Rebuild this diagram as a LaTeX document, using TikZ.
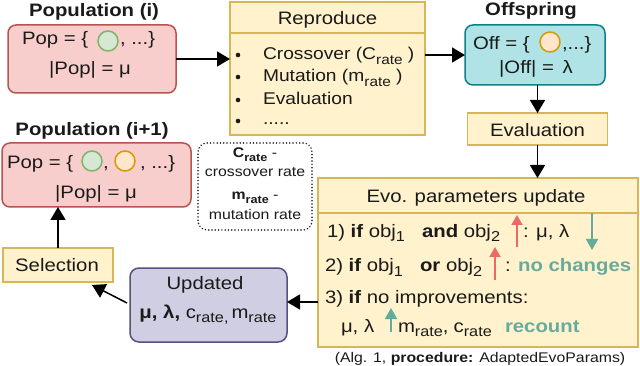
\documentclass[tikz,border=0pt]{standalone}
\usepackage{fontspec}
\usepackage{graphicx}
\setmainfont{Liberation Sans}[FakeStretch=1.13]
\usetikzlibrary{arrows.meta,calc}
\newcommand{\sbx}[1]{\raisebox{-0.45ex}{\scalebox{0.8}{#1}}}
\definecolor{popfill}{HTML}{F8CECC}
\definecolor{popdraw}{HTML}{B85450}
\definecolor{yelfill}{HTML}{FFF2CC}
\definecolor{yeldraw}{HTML}{D6B656}
\definecolor{offfill}{HTML}{B0E3E6}
\definecolor{offdraw}{HTML}{0E8088}
\definecolor{purfill}{HTML}{D0CEE2}
\definecolor{purdraw}{HTML}{56517E}
\definecolor{grnfill}{HTML}{D5E8D4}
\definecolor{grndraw}{HTML}{82B366}
\definecolor{orfill}{HTML}{FFE6CC}
\definecolor{ordraw}{HTML}{D79B00}
\definecolor{redarr}{HTML}{EA6B66}
\definecolor{tealc}{HTML}{67AB9F}
\definecolor{txt}{HTML}{1A1A1A}
\begin{document}
\begin{tikzpicture}[x=1pt,y=-1pt,
  every node/.style={inner sep=0pt,outer sep=0pt,text=txt},
  big/.style={font=\fontsize{18}{21}\selectfont},
  bigb/.style={font=\fontsize{18}{21}\selectfont\bfseries},
  mid/.style={font=\fontsize{17}{20}\selectfont},
  small/.style={font=\fontsize{14}{17}\selectfont},
  box/.style={draw,line width=1.5pt,rectangle},
  popbox/.style={box,fill=popfill,draw=popdraw,rounded corners=8pt},
  yelbox/.style={box,fill=yelfill,draw=yeldraw},
  offbox/.style={box,fill=offfill,draw=offdraw,rounded corners=8pt},
  purbox/.style={box,fill=purfill,draw=purdraw,rounded corners=9pt},
  notebox/.style={draw=txt,line width=1.6pt,dash pattern=on 0.1pt off 3.2pt,line cap=round,rounded corners=9pt,rectangle},
  grncirc/.style={circle,draw=grndraw,fill=grnfill,line width=1.5pt,minimum size=20pt},
  orcirc/.style={circle,draw=ordraw,fill=orfill,line width=1.5pt,minimum size=20pt},
  arr/.style={line width=1.5pt,draw=black,-{Triangle[length=13pt,width=15pt]}},
  redup/.style={line width=1.8pt,draw=redarr,-{Triangle[length=10pt,width=11pt]}},
  tealar/.style={line width=1.8pt,draw=tealc,-{Triangle[length=11pt,width=12pt]}},
  bul/.style={circle,fill=txt,minimum size=4.6pt}
]
\useasboundingbox[fill=white] (0,0) rectangle (640,366);

% ---- Population (i)
\node[bigb,anchor=base] (t1) at (94,16.5) {Population (i)};
\node[popbox,minimum width=168pt,minimum height=68pt] (pop1) at (92,59) {};
\node[big,anchor=base west] (p1a) at (22,45) {Pop = \{};
\node[grncirc] (p1c) at (108,41) {};
\node[big,anchor=base west] (p1b) at (120,45) {, ...\}};
\node[big,anchor=base] (p1d) at (90,75) {|Pop| = μ};

% ---- Reproduce
\node[yelbox,minimum width=195pt,minimum height=31pt] (rhead) at (327.5,17.5) {};
\node[yelbox,minimum width=195pt,minimum height=102pt] (rbody) at (327.5,84) {};
\node[big,anchor=base] (rt) at (327.5,25) {Reproduce};
\node[bul] (b1) at (238,55) {};
\node[bul] (b2) at (238,77) {};
\node[bul] (b3) at (238,100) {};
\node[bul] (b4) at (238,121) {};
\node[mid,anchor=base west] (r1) at (263,60) {Crossover (C\sbx{rate} )};
\node[mid,anchor=base west] (r2) at (263,82) {Mutation (m\sbx{rate} )};
\node[mid,anchor=base west] (r3) at (263,105) {Evaluation};
\node[mid,anchor=base west] (r4) at (263,125) {.....};

% ---- Offspring
\node[bigb,anchor=base] (t2) at (531,15.5) {Offspring};
\node[offbox,minimum width=140pt,minimum height=60pt] (off) at (535,55) {};
\node[big,anchor=base west] (o1a) at (473,50) {Off = \{};
\node[orcirc] (o1c) at (550,42) {};
\node[big,anchor=base west] (o1b) at (562,50) {,...\}};
\node[big,anchor=base] (o1d) at (536,74) {|Off| =\, λ};

% ---- Evaluation
\node[yelbox,minimum width=140pt,minimum height=32pt] (eval) at (537.5,129) {};
\node[big,anchor=base] (et) at (537.5,137) {Evaluation};

% ---- Evo parameters update
\node[yelbox,minimum width=320pt,minimum height=35pt] (ehead) at (478,195.5) {};
\node[yelbox,minimum width=320pt,minimum height=134pt] (ebody) at (478,280) {};
\node[big,anchor=base] (eht) at (476,203) {Evo. parameters update};

\node[big,anchor=base west] (e1a) at (327,237) {1) \textbf{if} obj\sbx{1}\hspace{17pt}\textbf{and} obj\sbx{2}};
\coordinate (e1r) at (517,237);
\draw[redup] (e1r |- 0,247) -- (e1r |- 0,215);
\node[big,anchor=base west] (e1b) at (523,237) {: μ, λ};
\coordinate (e1t) at (592,237);
\draw[tealar] (e1t |- 0,213) -- (e1t |- 0,250);

\node[big,anchor=base west] (e2a) at (325,272) {2) \textbf{if} obj\sbx{1}\hspace{17pt}\textbf{or} obj\sbx{2}};
\coordinate (e2r) at (495,272);
\draw[redup] (e2r |- 0,280) -- (e2r |- 0,247);
\node[big,anchor=base west] (e2b) at (505,272) {: \textcolor{tealc}{\textbf{no changes}}};

\node[big,anchor=base west] (e3) at (325,303) {3) \textbf{if} no improvements:};

\node[big,anchor=base west] (e4a) at (341,332) {μ, λ};
\coordinate (e4t) at (391,332);
\draw[tealar] (e4t |- 0,332) -- (e4t |- 0,308);
\node[big,anchor=base west] (e4b) at (398,332) {m\sbx{rate},\hspace{5pt}c\sbx{rate}};
\node[big,anchor=base west] (e4c) at (505,332) {\textcolor{tealc}{\textbf{recount}}};

\node[small,anchor=base] (cap) at (480,362) {(Alg. 1, \textbf{procedure:} AdaptedEvoParams)};

% ---- Updated
\node[purbox,minimum width=157pt,minimum height=74pt] (upd) at (208.5,305) {};
\node[big,anchor=base] (u1) at (205,290) {Updated};
\node[big,anchor=base] (u2) at (208,318) {\textbf{μ, λ,} c\sbx{rate,}\hspace{3pt}m\sbx{rate}};

% ---- Selection
\node[yelbox,minimum width=110pt,minimum height=34pt] (sel) at (58,265) {};
\node[big,anchor=base] (st) at (57,272) {Selection};

% ---- Population (i+1)
\node[bigb,anchor=base] (t3) at (92,136) {Population (i+1)};
\node[popbox,minimum width=189pt,minimum height=64pt] (pop2) at (96.5,175) {};
\node[big,anchor=base west] (p2a) at (7,169) {Pop = \{};
\node[grncirc] (p2c) at (92,161) {};
\node[big,anchor=base west] (p2k) at (103,169) {,};
\node[orcirc] (p2o) at (125,161) {};
\node[big,anchor=base west] (p2b) at (140,169) {, ...\}};
\node[big,anchor=base] (p2d) at (96,199) {|Pop| = μ};

% ---- Note
\node[notebox,minimum width=114pt,minimum height=87pt] (note) at (255,186.5) {};
\node[small,anchor=base] (n1) at (255,158) {\textbf{C\sbx{rate}} -};
\node[small,anchor=base] (n2) at (255,177) {crossover rate};
\node[small,anchor=base] (n3) at (255,200) {\textbf{m\sbx{rate}} -};
\node[small,anchor=base] (n4) at (255,220) {mutation rate};

% ---- connectors
\draw[arr] (pop1.east) -- (pop1.east -| rbody.west);
\draw[arr] (off.west -| rbody.east) -- (off.west);
\draw[arr] (eval.north |- off.south) -- (eval.north);
\draw[arr] (eval.south) -- (eval.south |- ehead.north);
\draw[arr] (ebody.west |- 0,302) -- (upd.east |- 0,302);
\coordinate (selin) at ($(sel.south east)+(-21,3)$);
\draw[arr] ($(upd.west)+(-3,-2)$) -- (selin);
\draw[arr] (sel.north) -- (sel.north |- pop2.south);
\end{tikzpicture}
\end{document}
